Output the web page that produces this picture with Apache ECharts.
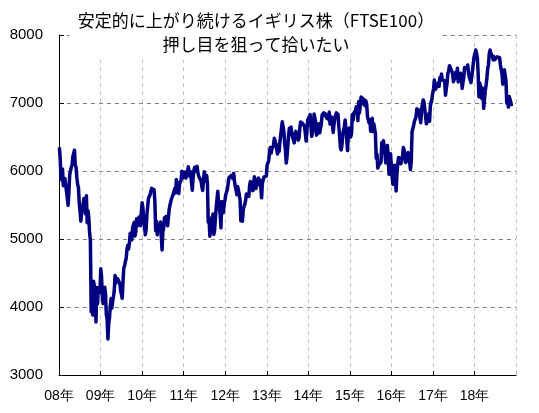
<!DOCTYPE html>
<html><head><meta charset="utf-8">
<script src="https://cdn.jsdelivr.net/npm/echarts@6/dist/echarts.min.js"></script>
<style>html,body{margin:0;padding:0;background:#fff}#c{width:539px;height:413px}</style>
</head><body><div id="c"></div>
<script>
// Weekly closes (Fridays) of FTSE100, one array per year
const y2008 = [6348,6202,5902,5869,6029,5784,5787,5888,5884,5699,5692,5495,5692,5947,5965,6056,6091,6215,6220,6305,6087,6053,5906,5804,5756,5529,5412,5262,5380,5351,5354,5597,5450,5370,5636,5240,5416,5311,5088,4980,3932,4063,3883,4377,4365,4233,3781,4288,4049,4280,4286,4216];
const y2009 = [4562,4448,4147,4052,4149,4291,4189,3889,3830,3530,3754,3842,4008,4125,3983,4092,4155,4243,4462,4349,4345,4418,4438,4442,4346,4235,4186,4128,4389,4577,4608,4672,4718,4851,4909,4852,4937,5083,5061,4988,5162,5190,5242,5045,5106,5296,5195,5245,5322,5261,5196,5402];
const y2010 = [5534,5455,5260,5189,5061,5143,5358,5355,5600,5598,5650,5704,5744,5770,5744,5723,5553,5123,5262,5063,5188,5126,5163,5250,5047,4838,5106,5158,5313,5258,5332,5275,5195,5202,5439,5501,5509,5598,5592,5657,5703,5741,5675,5876,5797,5732,5669,5812,5808,5871,5996,5900];
const y2011 = [5985,5985,5896,5881,6000,6062,6083,5919,5990,5829,5718,5900,6009,6055,5996,6022,6069,5976,5925,5948,5938,5855,5766,5714,5697,5989,5991,5845,5935,5815,5247,5320,5041,5129,5292,5215,5368,5067,5128,5303,5466,5488,5703,5527,5545,5363,5164,5552,5529,5387,5512,5572];
const y2012 = [5649,5636,5728,5733,5901,5906,5905,5935,5911,5888,5965,5855,5768,5723,5651,5772,5777,5655,5575,5267,5351,5260,5435,5479,5514,5571,5663,5666,5651,5627,5788,5847,5853,5776,5711,5795,5916,5853,5742,5871,5793,5896,5806,5868,5769,5605,5819,5866,5914,5921,5940,5925];
const y2013 = [6089,6121,6154,6284,6347,6263,6328,6335,6378,6483,6489,6393,6412,6249,6384,6286,6426,6521,6624,6723,6655,6583,6411,6308,6116,6215,6375,6544,6630,6554,6647,6530,6500,6492,6413,6548,6583,6596,6512,6454,6487,6623,6721,6735,6708,6693,6675,6651,6552,6440,6606,6750];
const y2014 = [6731,6740,6829,6664,6510,6571,6663,6838,6810,6712,6527,6557,6616,6695,6561,6625,6685,6823,6814,6855,6815,6845,6858,6778,6825,6758,6866,6690,6749,6792,6679,6567,6689,6776,6820,6855,6806,6837,6649,6527,6340,6310,6388,6546,6567,6654,6750,6723,6742,6300,6545,6633];
const y2015 = [6548,6501,6550,6832,6749,6853,6873,6889,6946,6911,6741,7022,6855,6833,7089,6994,7070,6986,7047,6960,7032,6984,6804,6784,6710,6754,6585,6673,6775,6580,6696,6718,6551,6188,6247,6043,6084,6105,6109,6130,6416,6379,6444,6361,6354,6119,6335,6375,6238,5952,6052,6254];
const y2016 = [6242,5912,5804,5900,6084,5848,5707,5950,6097,6199,6140,6190,6106,6147,6204,6344,6311,6242,6126,6138,6156,6271,6210,6116,6021,6138,6577,6591,6669,6730,6724,6793,6916,6859,6838,6894,6777,6710,6910,6899,7044,7014,7020,6996,6693,6730,6775,6840,6730,6954,7012,7068,7143];
const y2017 = [7210,7338,7198,7184,7188,7258,7300,7244,7374,7343,7425,7336,7323,7349,7327,7114,7204,7297,7435,7470,7548,7547,7527,7464,7424,7313,7351,7378,7453,7368,7511,7310,7324,7402,7438,7378,7215,7310,7373,7522,7535,7523,7505,7560,7433,7380,7409,7300,7394,7490,7592,7688];
const y2018 = [7724,7779,7731,7666,7443,7093,7294,7244,7070,7224,7164,6922,7057,7184,7265,7368,7502,7567,7725,7779,7730,7701,7681,7634,7682,7637,7618,7661,7679,7701,7659,7667,7558,7577,7432,7277,7304,7490,7510,7319,6996,7050,6940,7094,7105,7014,6953];
const years = [2008,2009,2010,2011,2012,2013,2014,2015,2016,2017,2018];
const yearly = [y2008,y2009,y2010,y2011,y2012,y2013,y2014,y2015,y2016,y2017,y2018];
const yTicks = [3000,4000,5000,6000,7000,8000];
const titleText = '安定的に上がり続けるイギリス株（FTSE100）\n押し目を狙って拾いたい';

const DAY = 86400000;
const data = [];
years.forEach((yr, i) => {
  // first Friday of the year
  let d = Date.UTC(yr, 0, 1);
  while (new Date(d).getUTCDay() !== 5) d += DAY;
  yearly[i].forEach((v, k) => data.push([d + k * 7 * DAY, v]));
});

const chart = echarts.init(document.getElementById('c'), null, {renderer: 'canvas'});
chart.setOption({
  animation: false,
  backgroundColor: '#fff',
  title: {
    text: titleText,
    left: 248, top: 6,
    textAlign: 'center',
    backgroundColor: '#fff',
    padding: [3, 8, 3, 8],
    itemGap: 0,
    textStyle: {fontFamily: '"Noto Sans CJK JP", sans-serif', fontSize: 17, fontWeight: 'normal', color: '#000', lineHeight: 24}
  },
  grid: {left: 59, top: 35, right: 23, bottom: 38, containLabel: false},
  xAxis: {
    type: 'time',
    min: Date.UTC(2008, 0, 1),
    max: Date.UTC(2019, 0, 1),
    minInterval: 365 * DAY, maxInterval: 366 * DAY,
    axisLine: {lineStyle: {color: '#000', width: 1}},
    axisTick: {show: true, inside: true, length: 4, lineStyle: {color: '#000'}},
    axisLabel: {
      showMaxLabel: false, showMinLabel: true, margin: 14,
      fontFamily: '"Liberation Sans", Arial, sans-serif', fontSize: 14, color: '#000',
      formatter: v => String(new Date(v).getUTCFullYear()).slice(2) + '年'
    },
    splitLine: {show: true, lineStyle: {color: '#c0c0c0', type: [4, 4], width: 1}}
  },
  yAxis: {
    type: 'value', min: yTicks[0], max: yTicks[yTicks.length - 1], interval: 1000,
    axisLine: {show: true, lineStyle: {color: '#000', width: 1}},
    axisTick: {show: true, inside: true, length: 5, lineStyle: {color: '#000'}},
    axisLabel: {margin: 16, fontFamily: '"Liberation Sans", Arial, sans-serif', fontSize: 15, color: '#000',
      formatter: v => String(v)},
    splitLine: {show: true, lineStyle: {color: '#808080', type: [4, 4], width: 1}}
  },
  series: [{
    type: 'line', data: data, showSymbol: false, symbol: 'none',
    lineStyle: {color: '#000080', width: 3.5, join: 'round'}, z: 3
  }]
});
</script></body></html>
